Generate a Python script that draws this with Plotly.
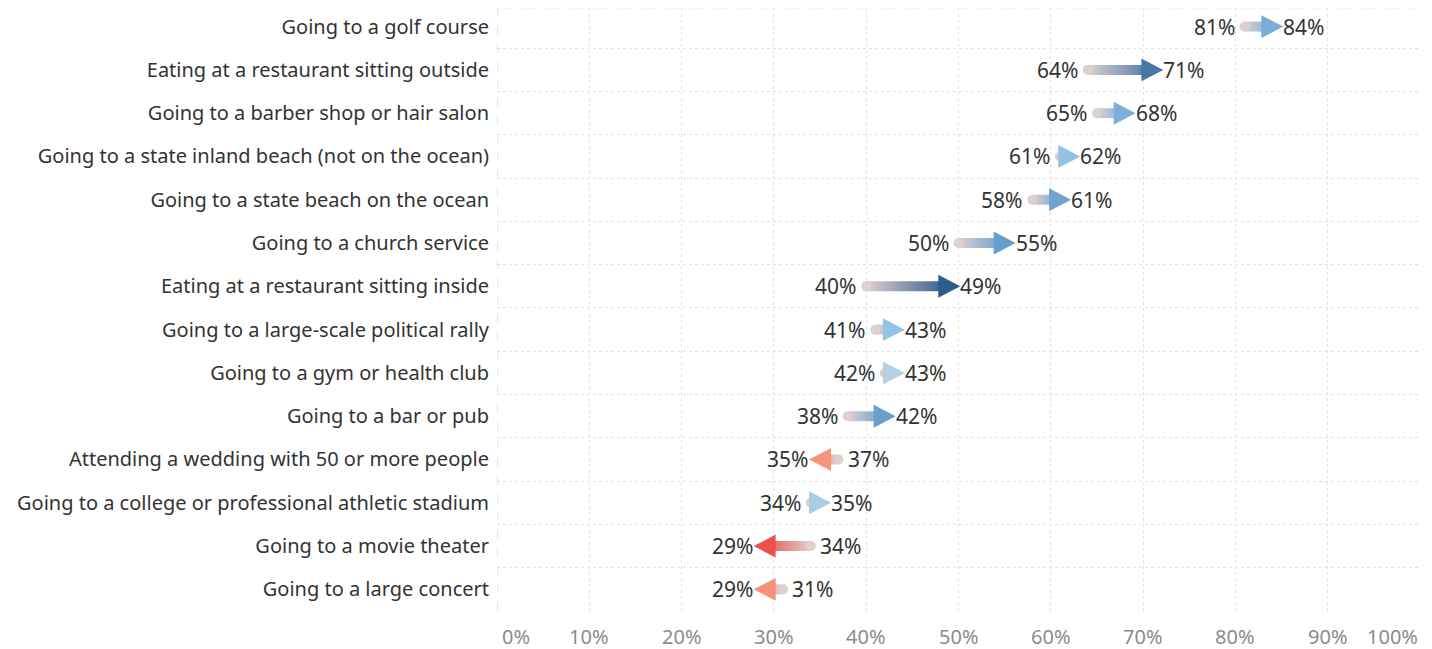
import plotly.graph_objects as go

activities = [
    "Going to a golf course",
    "Eating at a restaurant sitting outside",
    "Going to a barber shop or hair salon",
    "Going to a state inland beach (not on the ocean)",
    "Going to a state beach on the ocean",
    "Going to a church service",
    "Eating at a restaurant sitting inside",
    "Going to a large-scale political rally",
    "Going to a gym or health club",
    "Going to a bar or pub",
    "Attending a wedding with 50 or more people",
    "Going to a college or professional athletic stadium",
    "Going to a movie theater",
    "Going to a large concert",
]
before = [81, 64, 65, 61, 58, 50, 40, 41, 42, 38, 37, 34, 34, 31]
after = [84, 71, 68, 62, 61, 55, 49, 43, 43, 42, 35, 35, 29, 29]

x_ticks = [0, 10, 20, 30, 40, 50, 60, 70, 80, 90, 100]

# ---- style ----
arrow_colors = ["#79acd6", "#4876a6", "#7cb0da", "#93c3e3", "#6ea4cf", "#689ecb",
                "#2d5b8a", "#93c4e3", "#b7d0e2", "#6a9fcb", "#f8937d", "#a9cde3",
                "#e9534b", "#f7917a"]
start_color = "#dcd0d0"
text_color = "#333333"
tick_color = "#8c8c8c"
grid_color = "#e3e3e3"
font_family = "Noto Sans"
line_half = 0.115      # half line thickness (row units)
head_hw = 1.19         # half arrow-head length (axis % units)
head_hh = 0.265        # half arrow-head height (row units)

fig = go.Figure()

for i, (s, e) in enumerate(zip(before, after)):
    c = arrow_colors[i]
    lo, hi = min(s, e), max(s, e)
    d = 1 if e >= s else -1
    cs = [[0, start_color], [1, c]] if d > 0 else [[0, c], [1, start_color]]
    # gradient shaft
    fig.add_trace(go.Scatter(
        x=[lo, hi, hi, lo, lo],
        y=[i - line_half, i - line_half, i + line_half, i + line_half, i - line_half],
        mode="lines", line=dict(width=0), fill="toself",
        fillgradient=dict(type="horizontal", colorscale=cs),
        hoverinfo="skip", showlegend=False,
    ))
    # rounded cap at start
    fig.add_trace(go.Scatter(
        x=[s], y=[i], mode="markers",
        marker=dict(symbol="circle", size=10, color=start_color, line=dict(width=0)),
        hoverinfo="skip", showlegend=False,
    ))
    # arrow head
    fig.add_trace(go.Scatter(
        x=[e - d * head_hw, e + d * head_hw, e - d * head_hw, e - d * head_hw],
        y=[i - head_hh, i, i + head_hh, i - head_hh],
        mode="lines", line=dict(width=0), fill="toself", fillcolor=c,
        hoverinfo="skip", showlegend=False,
    ))
    # value labels
    left_off = -10 if d < 0 else -8
    right_off = 9 if d > 0 else 7
    fig.add_annotation(x=lo, y=i, text=f"{lo:.0f}%", showarrow=False,
                       xanchor="right", xshift=left_off,
                       font=dict(size=21, color=text_color, family=font_family))
    fig.add_annotation(x=hi, y=i, text=f"{hi:.0f}%", showarrow=False,
                       xanchor="left", xshift=right_off,
                       font=dict(size=21, color=text_color, family=font_family))

# x tick labels as text (first one left-aligned, last one right-aligned like the original)
for k, v in enumerate(x_ticks):
    anchor = "left" if k == 0 else ("right" if k == len(x_ticks) - 1 else "center")
    shift = 3 if k == 0 else 0
    fig.add_annotation(x=v, y=0, xref="x", yref="paper", text=f"{v}%",
                       showarrow=False, xanchor=anchor, yanchor="middle",
                       xshift=shift, yshift=-25,
                       font=dict(size=20, color=tick_color, family=font_family))

n = len(activities)
fig.update_layout(
    width=1424, height=641,
    margin=dict(l=489, r=12, t=0, b=38, autoexpand=False),
    plot_bgcolor="white", paper_bgcolor="white",
    font=dict(family=font_family, color=text_color),
    xaxis=dict(
        range=[0, 100], tickvals=x_ticks, showticklabels=False,
        showgrid=True, gridcolor=grid_color, griddash="dot", gridwidth=1,
        zeroline=False, showline=False, ticks="", automargin=False,
        fixedrange=True,
    ),
    yaxis=dict(
        range=[n - 0.5, -0.43], tickvals=list(range(n)), ticktext=activities,
        showgrid=False, zeroline=False, showline=False, ticks="", automargin=False,
        tickfont=dict(size=20, color=text_color, family=font_family),
        ticklabelstandoff=7,
        minor=dict(tickvals=[k - 0.5 for k in range(n + 1)],
                   showgrid=True, gridcolor=grid_color, griddash="dot", gridwidth=1),
        fixedrange=True,
    ),
    showlegend=False,
)
fig.add_shape(type="line", xref="x", yref="paper", x0=0, x1=0, y0=0, y1=1,
              line=dict(color="#d0d0d0", width=1, dash="dash"))
fig.add_shape(type="line", xref="paper", yref="paper", x0=0, x1=1, y0=1, y1=1,
              line=dict(color=grid_color, width=1, dash="dot"))

fig.write_html("out.html")
